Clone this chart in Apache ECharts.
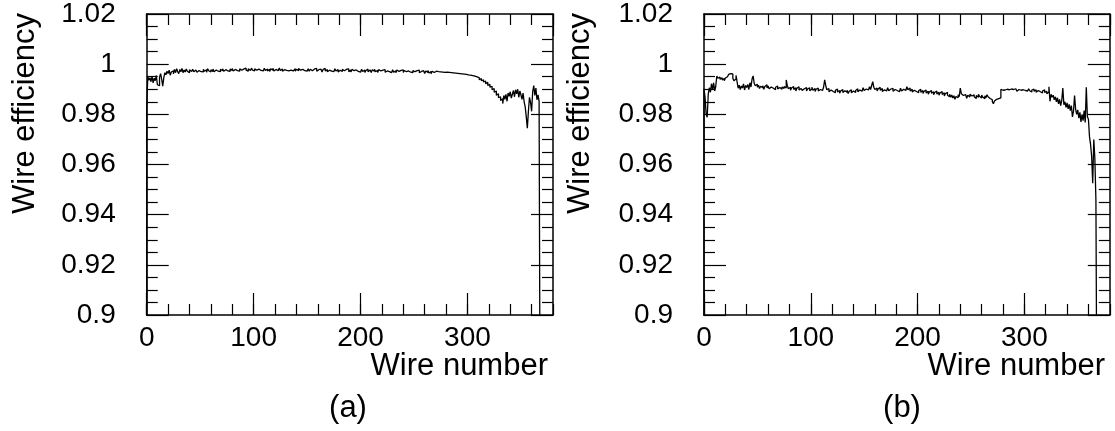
<!DOCTYPE html>
<html>
<head>
<meta charset="utf-8">
<script src="https://cdn.jsdelivr.net/npm/echarts@6/dist/echarts.min.js"></script>
<style>
html,body{margin:0;padding:0;background:#fff;}
#c{width:1115px;height:431px;}
</style>
</head>
<body>
<div id="c"></div>
<script>
// Wire efficiency per wire, panel (a)
const effA = [
0.9823,0.9950,0.9936,0.9946,0.9930,0.9952,0.9925,0.9944,0.9934,0.9955,
0.9918,0.9914,0.9948,0.9962,0.9940,0.9912,0.9946,0.9966,0.9958,0.9972,
0.9963,0.9976,0.9956,0.9969,0.9974,0.9961,0.9979,0.9966,0.9982,0.9970,
0.9962,0.9979,0.9970,0.9983,0.9966,0.9977,0.9969,0.9981,0.9972,0.9966,
0.9978,0.9971,0.9967,0.9980,0.9970,0.9977,0.9981,0.9968,0.9975,0.9979,
0.9970,0.9977,0.9969,0.9980,0.9972,0.9978,0.9968,0.9982,0.9974,0.9969,
0.9978,0.9971,0.9981,0.9970,0.9977,0.9983,0.9972,0.9979,0.9970,0.9980,
0.9974,0.9982,0.9972,0.9978,0.9984,0.9973,0.9980,0.9971,0.9981,0.9975,
0.9983,0.9973,0.9979,0.9984,0.9974,0.9981,0.9972,0.9982,0.9976,0.9971,
0.9981,0.9974,0.9984,0.9976,0.9972,0.9982,0.9975,0.9979,0.9984,0.9976,
0.9973,0.9982,0.9976,0.9972,0.9980,0.9985,0.9975,0.9982,0.9973,0.9979,
0.9984,0.9975,0.9981,0.9973,0.9980,0.9971,0.9982,0.9976,0.9984,0.9973,
0.9979,0.9983,0.9974,0.9980,0.9985,0.9975,0.9981,0.9972,0.9978,0.9984,
0.9975,0.9982,0.9973,0.9979,0.9976,0.9983,0.9973,0.9980,0.9982,0.9972,
0.9980,0.9974,0.9983,0.9976,0.9971,0.9979,0.9984,0.9974,0.9980,0.9972,
0.9977,0.9982,0.9972,0.9980,0.9974,0.9970,0.9981,0.9975,0.9983,0.9972,
0.9978,0.9971,0.9980,0.9975,0.9969,0.9979,0.9983,0.9973,0.9978,0.9970,
0.9976,0.9981,0.9972,0.9979,0.9970,0.9976,0.9982,0.9973,0.9979,0.9969,
0.9976,0.9981,0.9971,0.9979,0.9974,0.9968,0.9980,0.9973,0.9981,0.9970,
0.9977,0.9969,0.9979,0.9974,0.9967,0.9977,0.9981,0.9971,0.9977,0.9968,
0.9975,0.9980,0.9971,0.9977,0.9967,0.9975,0.9980,0.9970,0.9977,0.9972,
0.9967,0.9978,0.9972,0.9980,0.9970,0.9976,0.9967,0.9978,0.9973,0.9966,
0.9976,0.9970,0.9978,0.9968,0.9973,0.9980,0.9970,0.9976,0.9966,0.9973,
0.9978,0.9968,0.9974,0.9966,0.9977,0.9971,0.9965,0.9975,0.9969,0.9977,
0.9967,0.9975,0.9970,0.9964,0.9973,0.9978,0.9968,0.9974,0.9966,0.9975,
0.9970,0.9964,0.9974,0.9968,0.9976,0.9966,0.9971,0.9964,0.9974,0.9969,
0.9963,0.9973,0.9967,0.9975,0.9965,0.9971,0.9962,0.9972,0.9967,0.9961,
0.9972,0.9966,0.9970,0.9963,0.9969,0.9964,0.9968,0.9962,0.9967,0.9961,
0.9968,0.9965,0.9967,0.9964,0.9966,0.9963,0.9965,0.9962,0.9964,0.9961,
0.9963,0.9960,0.9962,0.9959,0.9961,0.9958,0.9960,0.9956,0.9959,0.9955,
0.9957,0.9953,0.9956,0.9951,0.9954,0.9948,0.9952,0.9946,0.9949,0.9943,
0.9946,0.9938,0.9943,0.9934,0.9938,0.9929,0.9933,0.9922,0.9928,0.9915,
0.9920,0.9908,0.9912,0.9898,0.9903,0.9888,0.9893,0.9876,0.9882,0.9866,
0.9870,0.9855,0.9862,0.9843,0.9875,0.9860,0.9880,0.9852,0.9885,0.9872,
0.9890,0.9865,0.9880,0.9895,0.9870,0.9898,0.9882,0.9900,0.9868,0.9893,
0.9878,0.9860,0.9885,0.9850,0.9830,0.9790,0.9745,0.9812,0.9868,0.9848,
0.9812,0.9890,0.9915,0.9875,0.9905,0.9858,0.9878,0.9852
];
// Wire efficiency per wire, panel (b)
const effB = [
0.9902,0.9868,0.9800,0.9788,0.9882,0.9906,0.9888,0.9922,0.9898,0.9926,
0.9893,0.9912,0.9953,0.9944,0.9949,0.9940,0.9946,0.9937,0.9943,0.9934,
0.9945,0.9950,0.9956,0.9959,0.9962,0.9955,0.9961,0.9944,0.9934,0.9941,
0.9955,0.9929,0.9904,0.9916,0.9899,0.9913,0.9905,0.9921,0.9897,0.9915,
0.9907,0.9919,0.9899,0.9926,0.9909,0.9941,0.9953,0.9924,0.9914,0.9920,
0.9908,0.9916,0.9903,0.9912,0.9906,0.9914,0.9900,0.9911,0.9918,0.9905,
0.9913,0.9902,0.9909,0.9916,0.9904,0.9910,0.9898,0.9908,0.9913,0.9901,
0.9907,0.9912,0.9900,0.9909,0.9903,0.9911,0.9905,0.9937,0.9915,0.9902,
0.9908,0.9896,0.9905,0.9911,0.9899,0.9906,0.9893,0.9904,0.9910,0.9897,
0.9903,0.9909,0.9895,0.9902,0.9898,0.9907,0.9893,0.9901,0.9906,0.9894,
0.9900,0.9908,0.9896,0.9903,0.9891,0.9900,0.9905,0.9893,0.9899,0.9904,
0.9895,0.9902,0.9909,0.9937,0.9915,0.9898,0.9903,0.9890,0.9897,0.9902,
0.9891,0.9898,0.9886,0.9896,0.9901,0.9889,0.9895,0.9884,0.9893,0.9899,
0.9887,0.9894,0.9900,0.9888,0.9896,0.9883,0.9892,0.9898,0.9886,0.9893,
0.9899,0.9887,0.9895,0.9902,0.9890,0.9897,0.9904,0.9892,0.9899,0.9906,
0.9895,0.9901,0.9908,0.9897,0.9903,0.9910,0.9899,0.9915,0.9930,0.9908,
0.9899,0.9905,0.9893,0.9901,0.9908,0.9896,0.9903,0.9891,0.9898,0.9905,
0.9893,0.9900,0.9906,0.9894,0.9901,0.9897,0.9904,0.9892,0.9899,0.9906,
0.9895,0.9902,0.9890,0.9897,0.9904,0.9893,0.9900,0.9907,0.9895,0.9902,
0.9910,0.9898,0.9905,0.9893,0.9900,0.9889,0.9896,0.9903,0.9891,0.9898,
0.9886,0.9894,0.9900,0.9888,0.9895,0.9883,0.9891,0.9897,0.9885,0.9892,
0.9880,0.9889,0.9895,0.9884,0.9890,0.9878,0.9887,0.9893,0.9881,0.9888,
0.9876,0.9885,0.9891,0.9879,0.9886,0.9873,0.9882,0.9888,0.9876,0.9870,
0.9880,0.9868,0.9877,0.9865,0.9874,0.9860,0.9871,0.9866,0.9878,0.9870,
0.9905,0.9882,0.9875,0.9868,0.9879,0.9872,0.9864,0.9876,0.9869,0.9880,
0.9873,0.9866,0.9878,0.9870,0.9863,0.9875,0.9868,0.9880,0.9872,0.9865,
0.9877,0.9869,0.9862,0.9874,0.9866,0.9878,0.9870,0.9863,0.9868,0.9858,
0.9850,0.9842,0.9853,0.9860,0.9856,0.9863,0.9858,0.9866,0.9900,0.9896,
0.9903,0.9897,0.9893,0.9900,0.9905,0.9898,0.9894,0.9901,0.9907,0.9899,
0.9895,0.9902,0.9897,0.9892,0.9899,0.9904,0.9896,0.9891,0.9898,0.9903,
0.9895,0.9900,0.9893,0.9898,0.9902,0.9894,0.9889,0.9897,0.9901,0.9892,
0.9898,0.9888,0.9895,0.9900,0.9890,0.9896,0.9885,0.9893,0.9898,0.9887,
0.9892,0.9882,0.9889,0.9910,0.9852,0.9880,0.9868,0.9876,0.9858,0.9870,
0.9850,0.9866,0.9842,0.9860,0.9835,0.9855,0.9905,0.9838,0.9850,0.9828,
0.9846,0.9822,0.9840,0.9815,0.9835,0.9790,0.9812,0.9875,0.9820,0.9800,
0.9818,0.9785,0.9808,0.9770,0.9800,0.9775,0.9815,0.9768,0.9908,0.9790,
0.9780,0.9710,0.9680,0.9632,0.9525,0.9700,0.9625,0.9458
];
const xTickLabels = [0, 100, 200, 300];
const yTickLabels = [0.9, 0.92, 0.94, 0.96, 0.98, 1, 1.02];
const xTitle = 'Wire number';
const yTitle = 'Wire efficiency';
const panelLabels = ['(a)', '(b)'];

const FONT = "'Liberation Sans', Arial, Helvetica, sans-serif";
const X_MIN = 0, X_MAX = 380, Y_MIN = 0.9, Y_MAX = 1.02;

function histData(vals) {
  const d = [[0, Y_MIN - 0.05]];
  vals.forEach((v, i) => d.push([i, v]));
  d.push([vals.length, vals[vals.length - 1]]);
  d.push([vals.length, Y_MIN - 0.05]);
  return d;
}

const grids = [
  {left: 146.7, top: 13.3, width: 406.3, height: 301.7},
  {left: 704, top: 13.3, width: 405.8, height: 301.7}
];

const xAxes = [], yAxes = [], series = [];
grids.forEach((g, gi) => {
  const common = {type: 'value', gridIndex: gi, min: X_MIN, max: X_MAX, splitLine: {show: false}};
  xAxes.push(Object.assign({}, common, {
    position: 'bottom', interval: 100,
    axisLine: {show: true, onZero: false, lineStyle: {color: '#000', width: 1.5}},
    axisTick: {show: true, inside: true, length: 22, lineStyle: {color: '#000', width: 1.2}},
    axisLabel: {show: true, showMaxLabel: false, color: '#000', fontSize: 28, fontFamily: FONT, margin: 9,
      formatter: v => (xTickLabels.indexOf(v) >= 0 ? String(v) : '')}
  }));
  xAxes.push(Object.assign({}, common, {
    position: 'bottom', interval: 20,
    axisLine: {show: false, onZero: false},
    axisTick: {show: true, inside: true, length: 11, lineStyle: {color: '#000', width: 1.2}},
    axisLabel: {show: false}
  }));
  xAxes.push(Object.assign({}, common, {
    position: 'top', interval: 100,
    axisLine: {show: true, onZero: false, lineStyle: {color: '#000', width: 1.5}},
    axisTick: {show: true, inside: true, length: 22, lineStyle: {color: '#000', width: 1.2}},
    axisLabel: {show: false}
  }));
  xAxes.push(Object.assign({}, common, {
    position: 'top', interval: 20,
    axisLine: {show: false, onZero: false},
    axisTick: {show: true, inside: true, length: 11, lineStyle: {color: '#000', width: 1.2}},
    axisLabel: {show: false}
  }));
  const ycommon = {type: 'value', gridIndex: gi, min: Y_MIN, max: Y_MAX, interval: 0.02, splitLine: {show: false},
    axisLine: {show: true, onZero: false, lineStyle: {color: '#000', width: 1.5}},
    axisTick: {show: true, inside: true, length: 22, lineStyle: {color: '#000', width: 1.2}},
    minorTick: {show: true, splitNumber: 4, length: 11, lineStyle: {color: '#000', width: 1.2}},
    minorSplitLine: {show: false}};
  yAxes.push(Object.assign({}, ycommon, {
    position: 'left',
    axisLabel: {show: true, color: '#000', fontSize: 28, fontFamily: FONT, margin: 31,
      formatter: v => { const r = Math.round(v * 1000) / 1000; return String(r); }}
  }));
  yAxes.push(Object.assign({}, ycommon, {position: 'right', axisLabel: {show: false}}));
  series.push({
    type: 'line', step: 'end', xAxisIndex: gi * 4, yAxisIndex: gi * 2,
    data: histData(gi === 0 ? effA : effB),
    showSymbol: false, symbol: 'none', clip: true, animation: false,
    lineStyle: {color: '#000', width: 1.3}
  });
});

function titleTexts() {
  const els = [];
  const titleRight = [548, 1105];
  const yTitleX = [25, 580];
  const labelX = [348, 902];
  grids.forEach((g, gi) => {
    els.push({type: 'text', x: titleRight[gi], y: 366, style: {text: xTitle, fill: '#000', fontSize: 31, fontFamily: FONT, textAlign: 'right', textVerticalAlign: 'middle'}});
    els.push({type: 'text', x: labelX[gi], y: 408, style: {text: panelLabels[gi], fill: '#000', fontSize: 31, fontFamily: FONT, textAlign: 'center', textVerticalAlign: 'middle'}});
    els.push({type: 'text', x: yTitleX[gi], y: 13, rotation: Math.PI / 2, style: {text: yTitle, fill: '#000', fontSize: 31, fontFamily: FONT, textAlign: 'right', textVerticalAlign: 'middle'}});
  });
  return els;
}

const chart = echarts.init(document.getElementById('c'), null, {renderer: 'canvas'});
chart.setOption({
  animation: false,
  backgroundColor: '#fff',
  grid: grids,
  xAxis: xAxes,
  yAxis: yAxes,
  series: series,
  graphic: titleTexts()
});
</script>
</body>
</html>
